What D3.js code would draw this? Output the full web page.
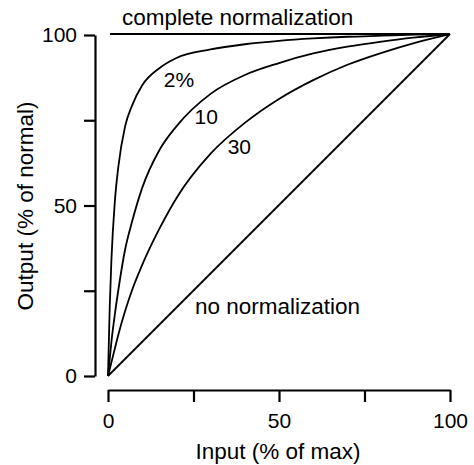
<!DOCTYPE html>
<html><head><meta charset="utf-8">
<script src="https://cdn.jsdelivr.net/npm/d3@7"></script>
<style>body{margin:0;background:#fff}svg{display:block}text{font-family:"Liberation Sans",Arial,sans-serif;fill:#000}</style>
</head><body><svg id="c" width="474" height="465"></svg>
<script>
const inputPct = [0, 0.5, 1, 2, 3, 5, 7, 10, 15, 20, 30, 40, 50, 60, 70, 80, 90, 100];
const out2  = [0, 20, 34, 51, 61, 73, 79, 85, 90, 93, 95.5, 97, 98, 98.7, 99.2, 99.5, 99.8, 100];
const out10 = [0, 5, 10, 18, 25, 37, 45, 55, 66, 73, 82.5, 88, 91.5, 94.3, 96.3, 97.8, 99, 100];
const out30 = [0, 2, 4, 8, 12, 19, 25, 32.5, 43, 52, 65, 74, 81, 86.5, 91, 94.5, 97.5, 100];
const noNormX = [0, 100], noNormY = [0, 100];
const completeX = [0.6, 100], completeY = [100, 100];
const xTicks = [0, 25, 50, 75, 100], xTickLabels = ["0", "", "50", "", "100"];
const yTicks = [0, 25, 50, 75, 100], yTickLabels = ["0", "", "50", "", "100"];
const curveLabels = [{t:"2%", x:16.3, y:84.5}, {t:"10", x:25.3, y:73.7}, {t:"30", x:35.0, y:64.9}];

const svg = d3.select("#c");
const x = d3.scaleLinear().domain([0,100]).range([108,450]);
const y = d3.scaleLinear().domain([0,100]).range([376,34]);
const fsNum = 21, fsWord = 22.5;

// axes (offset)
const xa = svg.append("g").attr("transform","translate(0,390)")
  .call(d3.axisBottom(x).tickValues(xTicks).tickFormat((d,i)=>xTickLabels[i]).tickSize(12).tickPadding(11).tickSizeOuter(0));
const ya = svg.append("g").attr("transform","translate(95,0)")
  .call(d3.axisLeft(d3.scaleLinear().domain([0,100]).range([376,35])).tickValues(yTicks).tickFormat((d,i)=>yTickLabels[i]).tickSize(11).tickPadding(7).tickSizeOuter(0));
[xa,ya].forEach(g=>{
  g.select(".domain").attr("stroke","#000").attr("stroke-width",2.2);
  g.selectAll(".tick line").attr("stroke","#000").attr("stroke-width",2.2);
  g.selectAll(".tick text").attr("font-size",fsNum).attr("font-family","Liberation Sans, Arial, sans-serif").attr("fill","#000");
});

const line = d3.line().x(d=>x(d[0])).y(d=>y(d[1])).curve(d3.curveMonotoneX);
const series = [out2,out10,out30];
series.forEach(s=>{
  svg.append("path").attr("d", line(inputPct.map((v,i)=>[v,s[i]])))
    .attr("fill","none").attr("stroke","#000").attr("stroke-width",1.8);
});
svg.append("path").attr("d", d3.line().x(d=>x(d[0])).y(d=>y(d[1]))(noNormX.map((v,i)=>[v,noNormY[i]])))
  .attr("fill","none").attr("stroke","#000").attr("stroke-width",1.8);
svg.append("path").attr("d", d3.line().x(d=>x(d[0])).y(d=>y(d[1]))(completeX.map((v,i)=>[v,completeY[i]])))
  .attr("fill","none").attr("stroke","#000").attr("stroke-width",1.8);

curveLabels.forEach(l=>{
  svg.append("text").attr("x",x(l.x)).attr("y",y(l.y)).attr("font-size",fsNum).text(l.t);
});
svg.append("text").attr("x",122).attr("y",25).attr("font-size",fsWord).text("complete normalization");
svg.append("text").attr("x",195).attr("y",314).attr("font-size",fsWord).text("no normalization");
svg.append("text").attr("x",278).attr("y",459).attr("text-anchor","middle").attr("font-size",fsWord).text("Input (% of max)");
svg.append("text").attr("transform","translate(33,206) rotate(-90)").attr("text-anchor","middle").attr("font-size",fsWord).text("Output (% of normal)");
</script></body></html>
